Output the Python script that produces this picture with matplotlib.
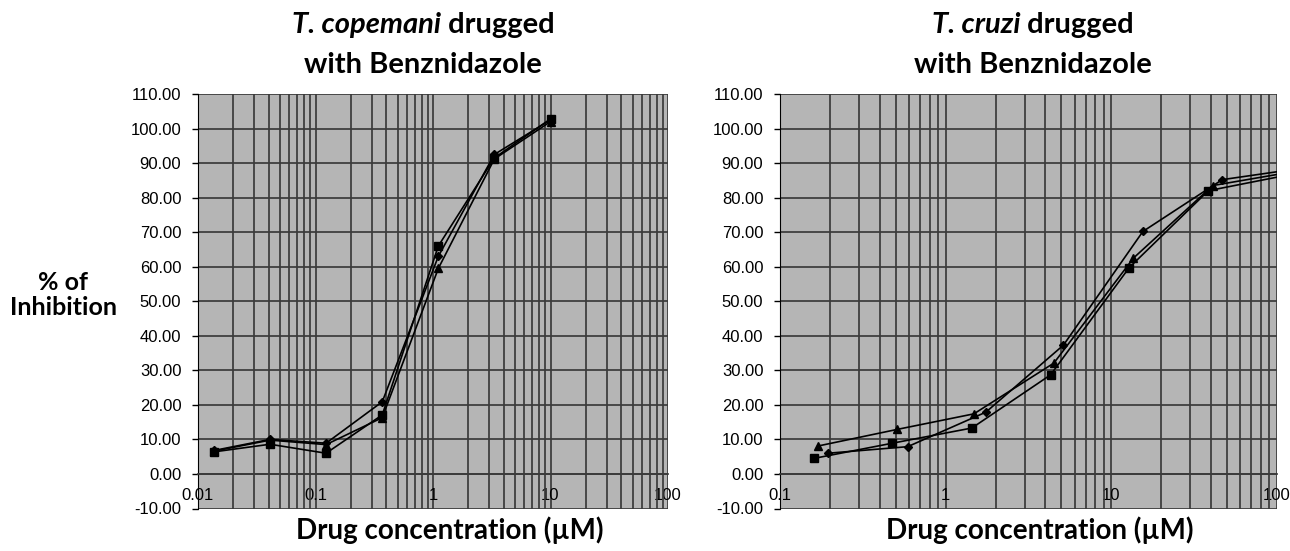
import matplotlib
matplotlib.use("Agg")
import matplotlib.pyplot as plt
from matplotlib.ticker import LogLocator, FixedLocator, FuncFormatter, NullFormatter

# ---------------- data ----------------
# Left: T. copemani (3-fold dilutions)
cop_x = [0.0137, 0.041, 0.123, 0.37, 1.11, 3.33, 10.0]
cop_diamond = [6.8, 10.0, 8.9, 20.9, 63.0, 92.5, 102.5]
cop_square = [6.4, 8.6, 6.0, 17.1, 66.0, 91.5, 102.8]
cop_triangle = [6.6, 9.8, 8.5, 16.3, 59.5, 91.2, 102.0]

# Right: T. cruzi
cru_x_diamond = [0.195, 0.59, 1.75, 5.14, 15.5, 46.7, 140.0]
cru_diamond = [6.0, 7.9, 17.9, 37.3, 70.2, 85.2, 88.5]
cru_x_square = [0.16, 0.476, 1.44, 4.3, 12.8, 38.5, 115.0]
cru_square = [4.5, 8.9, 13.3, 28.7, 59.7, 82.0, 86.5]
cru_x_triangle = [0.17, 0.51, 1.48, 4.5, 13.6, 41.0, 125.0]
cru_triangle = [8.1, 12.9, 17.4, 32.1, 62.5, 83.5, 87.5]

y_ticks = list(range(-10, 111, 10))
left_xticks = [0.01, 0.1, 1, 10, 100]
right_xticks = [0.1, 1, 10, 100]
xtick_labels = {0.01: "0.01", 0.1: "0.1", 1: "1", 10: "10", 100: "100"}

left_title = [("T. copemani", "italic"), (" drugged", "normal")]
right_title = [("T. cruzi", "italic"), (" drugged", "normal")]
title_line2 = "with Benznidazole"
xlabel = "Drug concentration (µM)"
ylabel = "% of\nInhibition"

# ---------------- style ----------------
W, H = 1290, 551
fig = plt.figure(figsize=(W / 100, H / 100), dpi=100)
TICKFONT = ["Liberation Sans", "DejaVu Sans"]
LABFONT = ["Lato", "Open Sans", "DejaVu Sans"]
BG = "#b5b5b5"
GRID = "#3a3a3a"


def setup(ax, xlim, xticks):
    ax.set_facecolor(BG)
    ax.set_xscale("log")
    ax.set_xlim(*xlim)
    ax.set_ylim(-10, 110)
    ax.yaxis.set_major_locator(FixedLocator(y_ticks))
    ax.yaxis.set_major_formatter(FuncFormatter(lambda v, p: f"{v:.2f}"))
    ax.xaxis.set_major_locator(FixedLocator(xticks))
    ax.xaxis.set_major_formatter(FuncFormatter(lambda v, p: xtick_labels.get(round(v, 3), "")))
    ax.xaxis.set_minor_locator(LogLocator(base=10, subs=range(2, 10), numticks=20))
    ax.xaxis.set_minor_formatter(NullFormatter())
    ax.grid(True, which="both", axis="x", color=GRID, lw=1.25)
    ax.grid(True, which="major", axis="y", color=GRID, lw=1.25)
    ax.set_axisbelow(True)
    for s in ["top", "right"]:
        ax.spines[s].set_visible(False)
    ax.spines["bottom"].set_position(("data", 0))
    ax.spines["bottom"].set_color(GRID)
    ax.spines["bottom"].set_linewidth(1.25)
    ax.spines["left"].set_color("black")
    ax.tick_params(axis="y", which="major", length=4, width=1, direction="out",
                   labelsize=12, pad=8)
    ax.tick_params(axis="x", which="both", length=0, labelsize=12, pad=10)


lkw = dict(color="black", lw=1.2, clip_on=True)

ax1 = fig.add_axes([198 / W, 1 - 508.5 / H, (668 - 198) / W, 414.5 / H])
setup(ax1, (0.01, 100), left_xticks)
ax1.plot(cop_x, cop_diamond, marker="D", ms=4.5, **lkw)
ax1.plot(cop_x, cop_square, marker="s", ms=5.5, **lkw)
ax1.plot(cop_x, cop_triangle, marker="^", ms=5.5, **lkw)

ax2 = fig.add_axes([780 / W, 1 - 508.5 / H, (1277 - 780) / W, 414.5 / H])
setup(ax2, (0.1, 100), right_xticks)
ax2.plot(cru_x_diamond, cru_diamond, marker="D", ms=4.5, **lkw)
ax2.plot(cru_x_square, cru_square, marker="s", ms=5.5, **lkw)
ax2.plot(cru_x_triangle, cru_triangle, marker="^", ms=5.5, **lkw)

for ax in (ax1, ax2):
    for lab in ax.get_xticklabels() + ax.get_yticklabels():
        lab.set_family(TICKFONT)

renderer = fig.canvas.get_renderer()


def rich_line(cx_px, base_px, parts, size):
    arts = []
    for txt, style in parts:
        t = fig.text(0, 1 - base_px / H, txt, fontsize=size, fontweight="bold", style=style,
                     family=LABFONT, ha="left", va="baseline")
        arts.append(t)
    widths = [a.get_window_extent(renderer).width for a in arts]
    total = sum(widths)
    x = cx_px - total / 2
    for a, w in zip(arts, widths):
        a.set_x(x / W)
        x += w


TS = 21
for cx, parts in ((423, left_title), (1033, right_title)):
    rich_line(cx, 33, parts, TS)
    fig.text(cx / W, 1 - 73 / H, title_line2, fontsize=TS, fontweight="bold",
             family=LABFONT, ha="center", va="baseline")

for cx in (450, 1040):
    fig.text(cx / W, 1 - 539 / H, xlabel, fontsize=20, fontweight="bold",
             family=LABFONT, ha="center", va="baseline")

fig.text(63 / W, 1 - 295 / H, ylabel, fontsize=18, fontweight="bold",
         family=LABFONT, ha="center", va="center", linespacing=1.15)

fig.savefig("out.png", dpi=100)
